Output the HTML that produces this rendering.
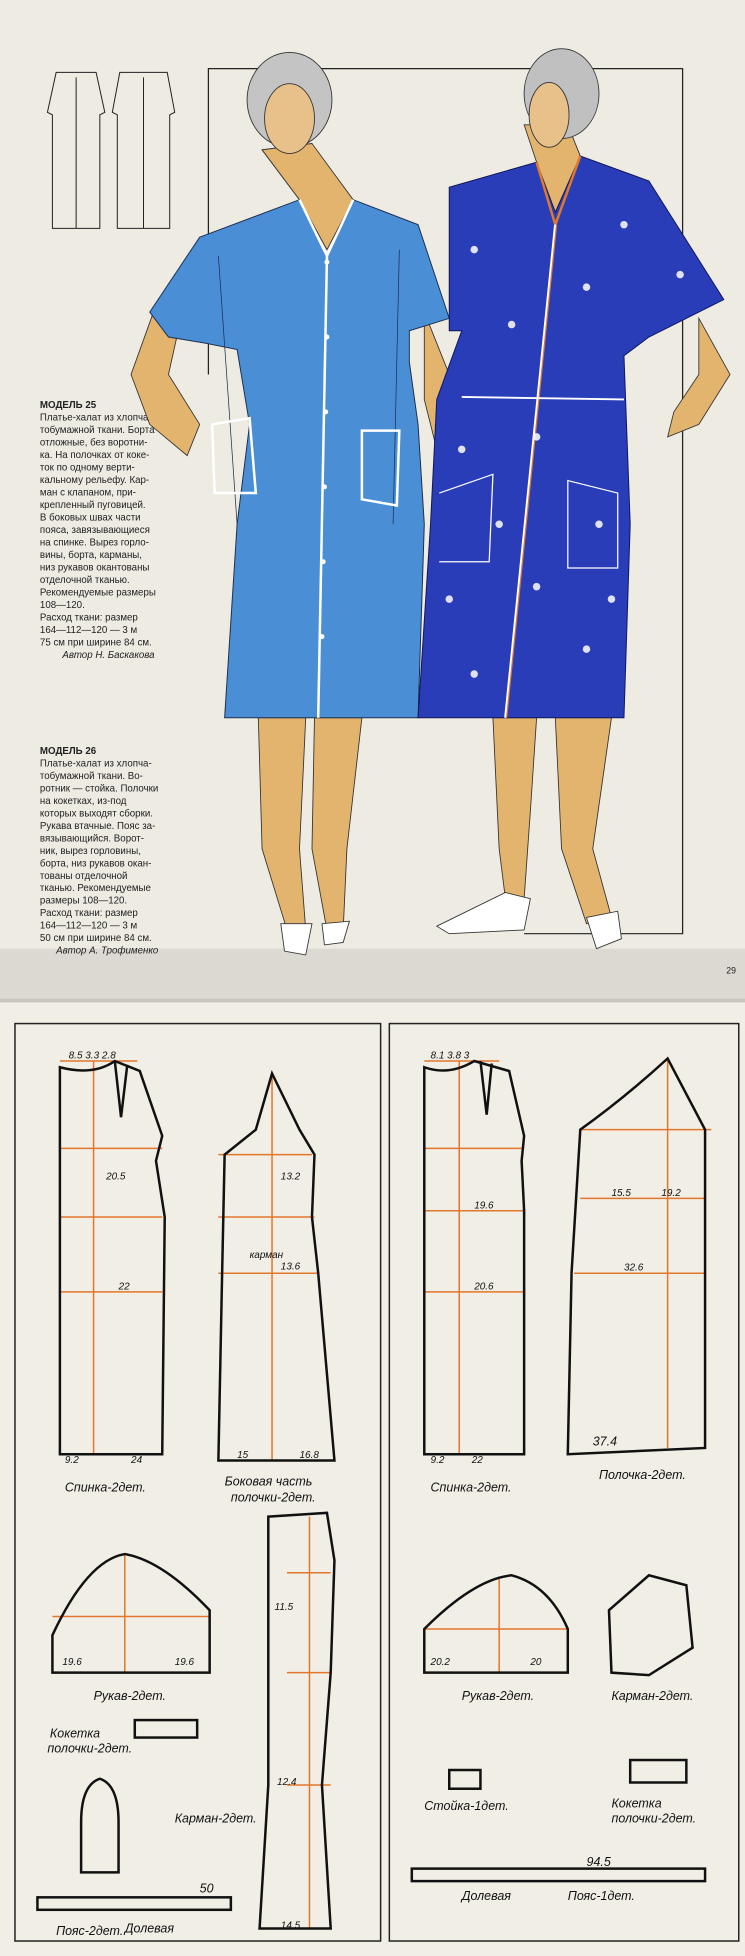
<!DOCTYPE html>
<html><head><meta charset="utf-8"><style>
html,body{margin:0;padding:0;background:#efece3}
svg{display:block}
text{font-family:"Liberation Sans",sans-serif}
</style></head><body>
<svg width="745" height="1956" viewBox="0 0 597 1567" preserveAspectRatio="none" xmlns="http://www.w3.org/2000/svg">
<rect width="597" height="1567" fill="#f1eee6"/>
<rect width="597" height="800" fill="#eeebe3"/>
<rect y="760" width="597" height="40" fill="#dcd9d2"/>
<rect y="800" width="597" height="3" fill="#c9c6bf"/>
<polyline points="167,300 167,55 547,55 547,748 420,748" fill="none" stroke="#222" stroke-width="1"/>
<g fill="none" stroke="#222" stroke-width="0.8">
<path d="M45,58 L38,90 L42,92 L42,183 L80,183 L80,92 L84,90 L77,58 Z"/>
<path d="M96,58 L90,90 L94,92 L94,183 L136,183 L136,92 L140,90 L134,58 Z"/>
<line x1="61" y1="62" x2="61" y2="183"/><line x1="115" y1="62" x2="115" y2="183"/>
</g>
<g font-size="7.8" fill="#222">
<text x="32" y="327" font-weight="bold">МОДЕЛЬ 25</text>
<text x="32" y="337">Платье-халат из хлопча-</text>
<text x="32" y="347">тобумажной ткани. Борта</text>
<text x="32" y="357">отложные, без воротни-</text>
<text x="32" y="367">ка. На полочках от коке-</text>
<text x="32" y="377">ток по одному верти-</text>
<text x="32" y="387">кальному рельефу. Кар-</text>
<text x="32" y="397">ман с клапаном, при-</text>
<text x="32" y="407">крепленный пуговицей.</text>
<text x="32" y="417">В боковых швах части</text>
<text x="32" y="427">пояса, завязывающиеся</text>
<text x="32" y="437">на спинке. Вырез горло-</text>
<text x="32" y="447">вины, борта, карманы,</text>
<text x="32" y="457">низ рукавов окантованы</text>
<text x="32" y="467">отделочной тканью.</text>
<text x="32" y="477">Рекомендуемые размеры</text>
<text x="32" y="487">108—120.</text>
<text x="32" y="497">Расход ткани: размер</text>
<text x="32" y="507">164—112—120 — 3 м</text>
<text x="32" y="517">75 см при ширине 84 см.</text>
<text x="50" y="527" font-style="italic">Автор Н. Баскакова</text>
<text x="32" y="604" font-weight="bold">МОДЕЛЬ 26</text>
<text x="32" y="614">Платье-халат из хлопча-</text>
<text x="32" y="624">тобумажной ткани. Во-</text>
<text x="32" y="634">ротник — стойка. Полочки</text>
<text x="32" y="644">на кокетках, из-под</text>
<text x="32" y="654">которых выходят сборки.</text>
<text x="32" y="664">Рукава втачные. Пояс за-</text>
<text x="32" y="674">вязывающийся. Ворот-</text>
<text x="32" y="684">ник, вырез горловины,</text>
<text x="32" y="694">борта, низ рукавов окан-</text>
<text x="32" y="704">тованы отделочной</text>
<text x="32" y="714">тканью. Рекомендуемые</text>
<text x="32" y="724">размеры 108—120.</text>
<text x="32" y="734">Расход ткани: размер</text>
<text x="32" y="744">164—112—120 — 3 м</text>
<text x="32" y="754">50 см при ширине 84 см.</text>
<text x="45" y="764" font-style="italic">Автор А. Трофименко</text>
<text x="582" y="780" font-size="7">29</text>
</g>
<g fill="#e2b46e" stroke="#333" stroke-width="0.7">
<path d="M210,120 L250,115 L262,200 L240,160 Z"/>
<path d="M210,120 L250,115 L283,160 L262,200 L240,160 Z"/>
<path d="M420,100 L455,100 L465,125 L445,175 L430,130 Z"/>
<path d="M123,250 L105,300 L120,340 L150,365 L160,340 L135,300 L145,255 Z"/>
<path d="M340,250 L360,300 L355,345 L350,360 L340,320 Z"/>
<path d="M560,255 L585,300 L560,340 L535,350 L540,330 L560,300 Z"/>
<path d="M207,575 L210,680 L230,745 L245,745 L240,680 L245,575 Z"/>
<path d="M252,575 L250,680 L262,745 L275,745 L278,680 L290,575 Z"/>
<path d="M395,575 L400,680 L405,720 L420,720 L425,650 L430,575 Z"/>
<path d="M445,575 L450,680 L470,740 L490,735 L475,680 L490,575 Z"/>
</g>
<g stroke="#333" stroke-width="0.7">
<ellipse cx="232" cy="80" rx="34" ry="38" fill="#c4c4c4"/>
<ellipse cx="232" cy="95" rx="20" ry="28" fill="#e8c08a"/>
<ellipse cx="450" cy="75" rx="30" ry="36" fill="#c0c0c0"/>
<ellipse cx="440" cy="92" rx="16" ry="26" fill="#e8c08a"/>
</g>
<g fill="#fff" stroke="#333" stroke-width="0.7">
<path d="M225,740 L250,740 L245,765 L228,762 Z"/>
<path d="M258,740 L280,738 L275,755 L260,757 Z"/>
<path d="M350,742 L405,715 L425,720 L420,745 L360,748 Z"/>
<path d="M470,735 L495,730 L498,752 L478,760 Z"/>
</g>
<path d="M160,190 L240,160 L262,205 L283,160 L335,180 L360,255 L328,265 L328,290 L335,340 L340,420 L335,575 L180,575 L190,420 L200,340 L190,280 L165,275 L135,270 L120,250 Z" fill="#4a8fd6" stroke="#1e3050" stroke-width="0.8"/>
<g fill="none" stroke="#1e3050" stroke-width="0.6"><path d="M175,205 L190,420"/><path d="M320,200 L315,420"/></g>
<g fill="none" stroke="#fff" stroke-width="2">
<path d="M240,160 L262,205 L283,160"/><line x1="262" y1="205" x2="255" y2="575"/>
<path d="M170,340 L200,335 L205,395 L172,395 Z"/><path d="M290,345 L320,345 L318,405 L290,400 Z"/>
</g>
<g fill="#fff"><circle cx="262" cy="210" r="2"/><circle cx="262" cy="270" r="2"/><circle cx="261" cy="330" r="2"/><circle cx="260" cy="390" r="2"/><circle cx="259" cy="450" r="2"/><circle cx="258" cy="510" r="2"/></g>
<path d="M360,150 L430,130 L445,170 L465,125 L520,145 L580,240 L540,260 L520,270 L500,285 L505,420 L500,575 L335,575 L345,420 L350,320 L370,265 L360,265 Z" fill="#2a3db8" stroke="#10185a" stroke-width="0.8"/>
<g fill="none" stroke-width="2">
<path d="M430,130 L445,180 L465,125" stroke="#e07a2a"/>
<line x1="445" y1="180" x2="405" y2="575" stroke="#fff"/>
<line x1="446" y1="180" x2="406" y2="575" stroke="#e07a2a" stroke-width="1"/>
<path d="M352,395 L395,380 L392,450 L352,450" stroke="#fff" stroke-width="1"/>
<path d="M455,385 L495,395 L495,455 L455,455 Z" stroke="#fff" stroke-width="1"/>
<line x1="370" y1="318" x2="500" y2="320" stroke="#fff" stroke-width="1.5"/>
</g>
<g fill="#fff" opacity="0.85">
<circle cx="380" cy="200" r="3"/><circle cx="410" cy="260" r="3"/><circle cx="470" cy="230" r="3"/><circle cx="500" cy="180" r="3"/><circle cx="545" cy="220" r="3"/>
<circle cx="370" cy="360" r="3"/><circle cx="430" cy="350" r="3"/><circle cx="480" cy="420" r="3"/><circle cx="360" cy="480" r="3"/><circle cx="430" cy="470" r="3"/>
<circle cx="470" cy="520" r="3"/><circle cx="380" cy="540" r="3"/><circle cx="490" cy="480" r="3"/><circle cx="400" cy="420" r="3"/>
</g>
<g fill="none" stroke="#222" stroke-width="1.2">
<rect x="12" y="820" width="293" height="735"/>
<rect x="312" y="820" width="280" height="735"/>
</g>
<g fill="none" stroke="#e2762a" stroke-width="1.2">
<line x1="48" y1="850" x2="110" y2="850"/><line x1="48" y1="920" x2="130" y2="920"/><line x1="48" y1="975" x2="130" y2="975"/><line x1="48" y1="1035" x2="130" y2="1035"/><line x1="75" y1="850" x2="75" y2="1165"/>
<line x1="175" y1="925" x2="250" y2="925"/><line x1="175" y1="975" x2="252" y2="975"/><line x1="175" y1="1020" x2="255" y2="1020"/><line x1="218" y1="860" x2="218" y2="1170"/>
<line x1="340" y1="850" x2="400" y2="850"/><line x1="340" y1="920" x2="420" y2="920"/><line x1="340" y1="970" x2="420" y2="970"/><line x1="340" y1="1035" x2="420" y2="1035"/><line x1="368" y1="850" x2="368" y2="1165"/>
<line x1="465" y1="905" x2="570" y2="905"/><line x1="465" y1="960" x2="565" y2="960"/><line x1="460" y1="1020" x2="565" y2="1020"/><line x1="535" y1="850" x2="535" y2="1160"/>
<line x1="42" y1="1295" x2="168" y2="1295"/><line x1="100" y1="1245" x2="100" y2="1340"/>
<line x1="340" y1="1305" x2="455" y2="1305"/><line x1="400" y1="1265" x2="400" y2="1340"/>
<line x1="230" y1="1260" x2="265" y2="1260"/><line x1="230" y1="1340" x2="265" y2="1340"/><line x1="230" y1="1430" x2="265" y2="1430"/><line x1="248" y1="1215" x2="248" y2="1545"/>
</g>
<g fill="none" stroke="#111" stroke-width="2">
<path d="M48,855 Q75,862 92,850 L112,858 L130,910 L125,930 L132,975 L130,1165 L48,1165 Z"/>
<path d="M92,850 L97,895 L102,853"/>
<path d="M218,860 L240,905 L252,925 L250,975 L255,1020 L268,1170 L175,1170 L178,1020 L180,925 L205,905 Z"/>
<path d="M340,855 Q360,862 380,850 L408,858 L420,910 L418,930 L420,970 L420,1165 L340,1165 Z"/>
<path d="M385,850 L390,893 L394,852"/>
<path d="M465,905 Q500,880 535,848 L565,905 L565,1160 L455,1165 L458,1020 Z"/>
<path d="M42,1310 Q70,1250 100,1245 Q130,1250 168,1290 L168,1340 L42,1340 Z"/>
<path d="M340,1305 Q380,1265 410,1262 Q440,1270 455,1305 L455,1340 L340,1340 Z"/>
<path d="M488,1290 L520,1262 L550,1270 L555,1320 L520,1342 L490,1340 Z"/>
<path d="M215,1215 L262,1212 L268,1250 L265,1340 L258,1430 L265,1545 L208,1545 L215,1430 Z"/>
<path d="M65,1460 Q65,1430 80,1425 Q95,1430 95,1460 L95,1500 L65,1500 Z"/>
<rect x="108" y="1378" width="50" height="14"/>
<rect x="360" y="1418" width="25" height="15"/>
<rect x="505" y="1410" width="45" height="18"/>
<rect x="30" y="1520" width="155" height="10"/>
<rect x="330" y="1497" width="235" height="10"/>
</g>
<g font-size="10" font-style="italic" fill="#111">
<text x="52" y="1195">Спинка-2дет.</text>
<text x="180" y="1190">Боковая часть</text>
<text x="185" y="1203">полочки-2дет.</text>
<text x="345" y="1195">Спинка-2дет.</text>
<text x="480" y="1185">Полочка-2дет.</text>
<text x="75" y="1362">Рукав-2дет.</text>
<text x="370" y="1362">Рукав-2дет.</text>
<text x="490" y="1362">Карман-2дет.</text>
<text x="40" y="1392">Кокетка</text>
<text x="38" y="1404">полочки-2дет.</text>
<text x="140" y="1460">Карман-2дет.</text>
<text x="45" y="1550">Пояс-2дет.</text>
<text x="100" y="1548">Долевая</text>
<text x="340" y="1450">Стойка-1дет.</text>
<text x="490" y="1448">Кокетка</text>
<text x="490" y="1460">полочки-2дет.</text>
<text x="370" y="1522">Долевая</text>
<text x="455" y="1522">Пояс-1дет.</text>
<text x="470" y="1495">94.5</text>
<text x="160" y="1516">50</text>
<text x="475" y="1158">37.4</text>
</g>
<g font-size="8" font-style="italic" fill="#111">
<text x="55" y="848">8.5 3.3 2.8</text><text x="345" y="848">8.1 3.8 3</text>
<text x="85" y="945">20.5</text><text x="95" y="1033">22</text><text x="52" y="1172">9.2</text><text x="105" y="1172">24</text>
<text x="225" y="945">13.2</text><text x="225" y="1017">13.6</text><text x="190" y="1168">15</text><text x="240" y="1168">16.8</text>
<text x="380" y="968">19.6</text><text x="380" y="1033">20.6</text><text x="345" y="1172">9.2</text><text x="378" y="1172">22</text>
<text x="490" y="958">15.5</text><text x="530" y="958">19.2</text><text x="500" y="1018">32.6</text>
<text x="50" y="1334">19.6</text><text x="140" y="1334">19.6</text><text x="345" y="1334">20.2</text><text x="425" y="1334">20</text>
<text x="220" y="1290">11.5</text><text x="222" y="1430">12.4</text><text x="225" y="1545">14.5</text>
<text x="200" y="1008">карман</text>
</g>
</svg>
</body></html>
